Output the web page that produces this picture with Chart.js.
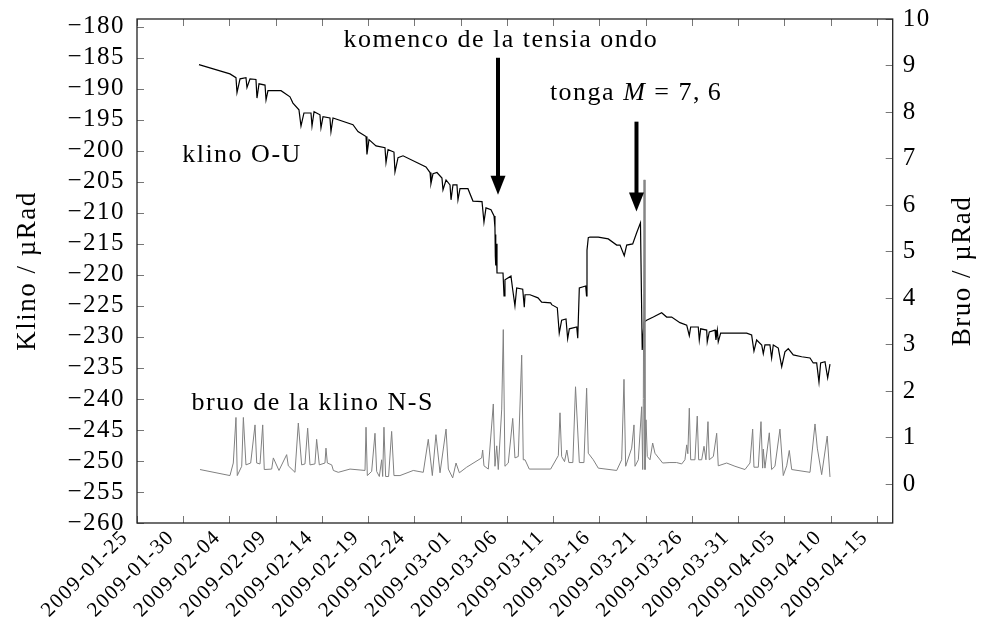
<!DOCTYPE html>
<html>
<head>
<meta charset="utf-8">
<script src="https://cdn.jsdelivr.net/npm/chart.js"></script>
<style>
  body { margin: 0; background: #fff; }
  #wrap { width: 981px; height: 628px; position: relative; }
</style>
</head>
<body>
<div id="wrap"><canvas id="myChart"></canvas></div>
<script>
// x values are days counted from 2009-01-25
var x_labels = ["2009-01-25", "2009-01-30", "2009-02-04", "2009-02-09", "2009-02-14", "2009-02-19",
  "2009-02-24", "2009-03-01", "2009-03-06", "2009-03-11", "2009-03-16", "2009-03-21",
  "2009-03-26", "2009-03-31", "2009-04-05", "2009-04-10", "2009-04-15"];

// klino O-U (left axis, µRad)
var klino_days = [6.70, 10.05, 10.70, 10.81, 11.14, 11.78, 11.89, 12.22, 12.86, 12.97, 13.19, 13.84, 13.95, 14.16,
  15.57, 16.54, 16.86, 17.51, 17.73, 18.05, 18.81, 18.92, 19.14, 19.78, 19.89, 20.11, 20.86, 20.97, 21.19,
  23.35, 23.89, 24.76, 24.86, 25.08, 25.84, 26.81, 26.92, 27.14, 27.78, 27.89, 28.22, 28.76, 31.24, 31.68,
  31.78, 32.00, 32.43, 32.97, 33.08, 33.41, 33.84, 33.95, 34.16, 34.59, 34.70, 34.92, 35.78, 36.32, 37.30,
  37.51, 37.73, 38.27, 38.60, 38.70, 38.74, 38.77, 38.80, 38.84, 38.92, 39.57, 39.68, 39.78, 40.43, 40.62,
  40.86, 41.05, 41.70, 41.87, 41.95, 42.49, 43.35, 43.75, 44.72, 44.83, 45.44, 45.65, 45.91, 46.38, 46.56,
  46.74, 47.54, 47.65, 47.82, 48.51, 48.60, 48.65, 48.79, 48.97, 49.87, 50.95, 51.86, 52.22, 52.68, 52.94,
  53.59, 54.02, 54.43, 54.62, 54.81, 55.10, 55.82, 56.72, 57.26, 57.80, 58.70, 59.43, 59.71, 59.86, 60.68,
  60.79, 60.94, 61.59, 61.65, 61.87, 62.49, 62.59, 62.74, 62.84, 63.10, 65.91, 66.45, 66.70, 66.99, 67.54,
  67.71, 67.89, 68.43, 68.61, 68.79, 69.33, 69.70, 70.05, 70.41, 70.95, 71.86, 72.76, 73.11, 73.48, 73.73,
  73.91, 74.38, 74.67, 74.92];
var klino_values = [-186.1, -187.6, -188.2, -190.6, -188.4, -188.2, -189.8, -188.4, -188.5, -191.5, -189.2, -189.4, -191.8, -190.3,
  -190.3, -191.3, -192.3, -193.4, -196.0, -193.9, -193.9, -196.0, -193.7, -194.2, -196.3, -194.5, -194.7, -196.9, -194.7,
  -195.8, -196.9, -197.7, -200.6, -198.2, -199.2, -199.5, -201.9, -199.8, -200.2, -203.4, -201.1, -200.8, -202.6, -203.5,
  -205.3, -203.7, -203.5, -204.4, -206.3, -204.7, -205.5, -207.9, -205.5, -205.5, -207.9, -206.1, -206.1, -208.1, -208.2,
  -211.5, -209.2, -209.5, -210.5, -212.4, -217.0, -213.5, -218.5, -215.0, -219.7, -219.7, -223.4, -220.8, -220.2, -222.4,
  -225.0, -222.1, -222.3, -225.2, -223.2, -223.2, -223.7, -224.4, -224.5, -224.8, -225.3, -229.4, -227.3, -227.1, -230.3,
  -228.7, -228.4, -230.2, -222.1, -221.8, -223.4, -216.0, -214.0, -213.9, -213.9, -214.2, -215.2, -215.2, -216.9, -215.2,
  -215.0, -213.2, -211.6, -232.1, -227.6, -227.3, -226.8, -226.1, -226.8, -226.8, -227.7, -228.1, -229.8, -228.4, -228.4,
  -230.5, -228.7, -228.9, -230.8, -229.2, -228.9, -230.5, -228.9, -230.8, -229.4, -229.4, -229.7, -232.3, -230.5, -231.3,
  -232.7, -231.3, -231.3, -233.4, -231.3, -231.8, -234.8, -232.4, -231.9, -232.9, -233.2, -233.4, -234.2, -234.2, -237.3,
  -234.2, -234.0, -236.6, -234.4];

// bruo de la klino N-S (right axis, µRad)
var bruo_days = [6.81, 10.05, 10.41, 10.70, 10.84, 11.32, 11.50, 11.78, 12.29, 12.76, 12.94, 13.30, 13.59, 13.76,
  14.56, 14.74, 15.35, 16.18, 16.36, 17.08, 17.44, 17.80, 18.16, 18.45, 18.70, 19.24, 19.42, 19.71, 20.32,
  20.43, 20.58, 21.05, 21.23, 21.76, 23.03, 24.65, 24.76, 24.90, 25.37, 25.73, 25.91, 26.20, 26.45, 26.56,
  26.70, 26.88, 27.20, 27.53, 27.78, 28.43, 29.87, 30.95, 31.49, 31.93, 32.32, 32.76, 33.41, 33.66, 34.13,
  34.49, 34.85, 35.64, 37.26, 37.37, 37.51, 37.98, 38.52, 38.70, 38.89, 39.06, 39.43, 39.60, 39.78, 40.14,
  40.62, 40.86, 41.22, 41.59, 41.76, 41.95, 42.41, 44.72, 45.55, 45.73, 45.91, 46.22, 46.47, 46.69, 47.12,
  47.41, 47.82, 48.32, 48.61, 48.79, 49.33, 49.87, 51.86, 52.40, 52.65, 52.83, 53.48, 53.73, 53.84, 54.20,
  54.56, 54.67, 54.74, 54.82, 54.92, 55.03, 55.17, 55.46, 55.75, 56.00, 56.83, 57.62, 58.34, 58.89, 59.24,
  59.43, 59.55, 59.71, 59.86, 60.32, 60.57, 60.72, 61.05, 61.30, 61.51, 61.73, 61.87, 62.31, 62.67, 62.84,
  63.75, 64.65, 65.73, 66.27, 66.56, 66.70, 67.17, 67.46, 67.64, 67.71, 67.89, 68.36, 68.61, 68.97, 69.51,
  69.87, 70.24, 70.52, 70.78, 72.76, 73.30, 73.55, 74.02, 74.62, 74.92];
var bruo_values = [0.31, 0.18, 0.45, 1.43, 0.18, 0.38, 1.43, 0.41, 0.45, 1.27, 0.45, 0.43, 1.27, 0.31,
  0.32, 0.56, 0.29, 0.63, 0.39, 0.25, 1.31, 0.41, 0.43, 1.20, 0.41, 0.43, 0.96, 0.41, 0.45,
  0.77, 0.45, 0.41, 0.29, 0.25, 0.32, 0.29, 1.22, 0.18, 0.27, 1.09, 0.27, 0.16, 0.52, 0.16,
  1.22, 0.16, 0.16, 1.13, 0.18, 0.18, 0.29, 0.25, 0.96, 0.18, 1.06, 0.24, 1.18, 0.32, 0.13,
  0.45, 0.24, 0.36, 0.56, 0.73, 0.39, 0.32, 1.72, 0.38, 0.82, 0.31, 1.61, 3.32, 0.38, 0.45,
  1.41, 0.56, 0.59, 2.77, 0.52, 0.52, 0.32, 0.32, 0.61, 1.53, 0.59, 0.48, 0.73, 0.46, 0.46,
  2.09, 0.46, 0.46, 2.06, 0.66, 0.52, 0.34, 0.29, 0.52, 2.25, 0.38, 0.77, 1.27, 0.38, 0.52,
  1.66, 0.31, 1.84, 6.54, 0.31, 1.38, 0.59, 0.52, 0.88, 0.66, 0.45, 0.46, 0.46, 0.43, 0.52,
  0.84, 0.65, 1.63, 0.52, 0.52, 1.46, 0.52, 0.52, 0.81, 0.52, 1.34, 0.52, 0.59, 1.09, 0.39,
  0.45, 0.38, 0.31, 0.45, 1.18, 0.36, 0.36, 1.34, 0.34, 0.75, 0.34, 1.10, 0.31, 0.38, 1.18,
  0.18, 0.39, 0.72, 0.31, 0.25, 1.29, 0.77, 0.20, 1.03, 0.15];

var FONT = "'Liberation Serif', serif";

function pts(xs, ys) {
  return xs.map(function (x, i) { return { x: x, y: ys[i] }; });
}

// texts and arrows placed in data coordinates (day, left-axis value), baseline anchored
var notes = [
  { text: "komenco de la tensia ondo", day: 39.35, val: -183.3 },
  { text: "klino O-U", day: 11.35, val: -201.8 },
  { text: "bruo de la klino N-S", day: 19.0, val: -241.8 }
];
var arrows = [
  { day: 39.03, from: -185.0, to: -207.1 },
  { day: 54.0, from: -195.3, to: -209.8 }
];

// the reference face is wider than Liberation Serif: open it up a little
var spacing = {
  id: "spacing",
  beforeDraw: function (chart) { chart.ctx.letterSpacing = "1.5px"; }
};

var annotate = {
  id: "annotate",
  afterDatasetsDraw: function (chart) {
    var ctx = chart.ctx, sx = chart.scales.x, sy = chart.scales.y;
    ctx.save();
    ctx.fillStyle = "#000";
    ctx.font = "26px " + FONT;
    ctx.textAlign = "center";
    ctx.textBaseline = "alphabetic";
    notes.forEach(function (n) {
      ctx.fillText(n.text, sx.getPixelForValue(n.day), sy.getPixelForValue(n.val));
    });
    // tonga M = 7,6 with italic M
    var tx = sx.getPixelForValue(53.95), ty = sy.getPixelForValue(-191.8);
    var p1 = "tonga ", p3 = " = 7,\u20096";
    ctx.font = "26px " + FONT;
    var w1 = ctx.measureText(p1).width, w3 = ctx.measureText(p3).width;
    ctx.font = "italic 26px " + FONT;
    var w2 = ctx.measureText("M").width;
    var x0 = tx - (w1 + w2 + w3) / 2;
    ctx.textAlign = "left";
    ctx.font = "26px " + FONT;
    ctx.fillText(p1, x0, ty);
    ctx.font = "italic 26px " + FONT;
    ctx.fillText("M", x0 + w1, ty);
    ctx.font = "26px " + FONT;
    ctx.fillText(p3, x0 + w1 + w2, ty);

    arrows.forEach(function (a) {
      var x = sx.getPixelForValue(a.day);
      var y1 = sy.getPixelForValue(a.from), y2 = sy.getPixelForValue(a.to);
      ctx.lineWidth = 4;
      ctx.strokeStyle = "#000";
      ctx.beginPath();
      ctx.moveTo(x, y1);
      ctx.lineTo(x, y2 - 16);
      ctx.stroke();
      ctx.beginPath();
      ctx.moveTo(x - 7.5, y2 - 19);
      ctx.lineTo(x + 7.5, y2 - 19);
      ctx.lineTo(x, y2);
      ctx.closePath();
      ctx.fill();
    });
    ctx.restore();
  }
};

var frame = {
  id: "frame",
  afterDraw: function (chart) {
    var ctx = chart.ctx, a = chart.chartArea;
    var sx = chart.scales.x, yl = chart.scales.y, yr = chart.scales.y2;
    ctx.save();
    ctx.strokeStyle = "#777";
    ctx.lineWidth = 1;
    ctx.beginPath();
    sx.ticks.forEach(function (t) {
      var p = Math.round(sx.getPixelForValue(t.value)) + 0.5;
      ctx.moveTo(p, a.bottom); ctx.lineTo(p, a.bottom - 7);
      ctx.moveTo(p, a.top); ctx.lineTo(p, a.top + 7);
    });
    yl.ticks.forEach(function (t) {
      var p = Math.round(yl.getPixelForValue(t.value)) + 0.5;
      ctx.moveTo(a.left, p); ctx.lineTo(a.left + 7, p);
    });
    yr.ticks.forEach(function (t) {
      var p = Math.round(yr.getPixelForValue(t.value)) + 0.5;
      ctx.moveTo(a.right, p); ctx.lineTo(a.right - 7, p);
    });
    ctx.stroke();
    ctx.strokeStyle = "#222";
    ctx.lineWidth = 1.3;
    ctx.strokeRect(a.left, a.top, a.right - a.left, a.bottom - a.top);

    ctx.fillStyle = "#000";
    // date labels, rotated 45 degrees, ending just left of their tick
    ctx.font = "21px " + FONT;
    ctx.textAlign = "right";
    ctx.textBaseline = "middle";
    sx.ticks.forEach(function (t) {
      var label = x_labels[Math.round(t.value / 5)];
      if (!label) return;
      ctx.save();
      ctx.translate(sx.getPixelForValue(t.value) - 12, a.bottom + 11);
      ctx.rotate(-Math.PI / 4);
      ctx.fillText(label, 0, 0);
      ctx.restore();
    });

    // right axis title reads bottom to top, like the left one
    ctx.font = "27px " + FONT;
    ctx.textAlign = "center";
    ctx.textBaseline = "middle";
    ctx.translate(963, (a.top + a.bottom) / 2);
    ctx.rotate(-Math.PI / 2);
    ctx.fillText("Bruo / µRad", 0, 0);
    ctx.restore();
  }
};

function noPad(s) {
  s.paddingTop = 0; s.paddingBottom = 0; s.paddingLeft = 0; s.paddingRight = 0;
}

var c = new Chart("myChart", {
  type: "line",
  data: {
    datasets: [
      {
        data: pts(bruo_days, bruo_values),
        yAxisID: "y2",
        borderColor: "#808080",
        borderWidth: 1,
        pointRadius: 0,
        tension: 0,
        order: 0
      },
      {
        data: pts(klino_days, klino_values),
        yAxisID: "y",
        borderColor: "#000",
        borderWidth: 1.2,
        pointRadius: 0,
        tension: 0,
        order: 1
      }
    ]
  },
  options: {
    responsive: true,
    maintainAspectRatio: false,
    devicePixelRatio: 1,
    animation: false,
    layout: { padding: { top: 19, left: 0, right: 0, bottom: 0 } },
    plugins: { legend: { display: false }, tooltip: { enabled: false } },
    scales: {
      x: {
        type: "linear",
        min: 0,
        max: 81.7,
        grid: { display: false, drawTicks: false },
        border: { display: false },
        afterFit: function (s) { s.height = 105; noPad(s); },
        ticks: { stepSize: 5, includeBounds: false, autoSkip: false, display: false }
      },
      y: {
        position: "left",
        min: -260,
        max: -178.75,
        grid: { display: false, drawTicks: false },
        border: { display: false },
        afterFit: function (s) { s.width = 137; noPad(s); },
        ticks: {
          stepSize: 5,
          includeBounds: false,
          autoSkip: false,
          padding: 12,
          color: "#000",
          font: { family: FONT, size: 25 },
          callback: function (v) { return String(v).replace("-", "\u2212"); }
        },
        title: {
          display: true,
          text: "Klino / µRad",
          color: "#000",
          font: { family: FONT, size: 27 },
          padding: { top: 12, bottom: 0 }
        }
      },
      y2: {
        position: "right",
        min: -0.84,
        max: 10,
        grid: { display: false, drawTicks: false },
        border: { display: false },
        afterFit: function (s) { s.width = 88.3; noPad(s); },
        ticks: {
          stepSize: 1,
          includeBounds: false,
          autoSkip: false,
          padding: 10,
          color: "#000",
          font: { family: FONT, size: 25 }
        }
      }
    }
  },
  plugins: [spacing, annotate, frame]
});
</script>
</body>
</html>
